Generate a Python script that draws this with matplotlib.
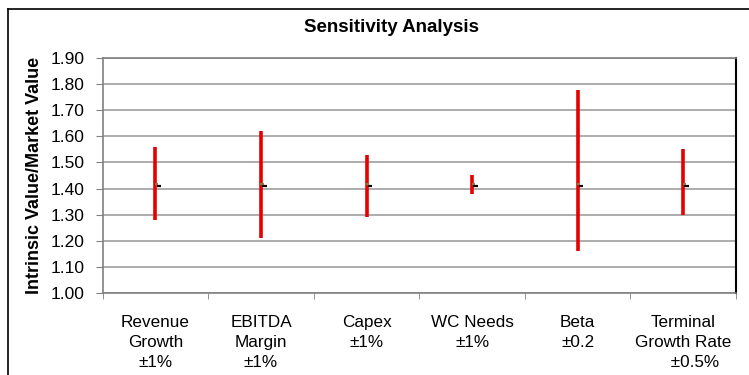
import numpy as np
import matplotlib.pyplot as plt
from matplotlib.lines import Line2D

plt.rcParams['font.family'] = ['Liberation Sans', 'DejaVu Sans']

# Rango de la relación valor intrínseco / valor de mercado por variable
categories = ['Revenue\nGrowth\n±1%', 'EBITDA\nMargin\n±1%', 'Capex\n±1%',
              'WC Needs\n±1%', 'Beta\n±0.2', 'Terminal\nGrowth Rate\n     ±0.5%']
high_vals = [1.56, 1.62, 1.53, 1.45, 1.78, 1.55]
low_vals = [1.28, 1.21, 1.29, 1.38, 1.16, 1.30]
base_vals = [1.41, 1.41, 1.41, 1.41, 1.41, 1.41]
y_ticks = [1.00, 1.10, 1.20, 1.30, 1.40, 1.50, 1.60, 1.70, 1.80, 1.90]

fig = plt.figure(figsize=(7.49, 3.75), dpi=100)

# marco del gráfico
fig.add_artist(Line2D([8 / 749, 8 / 749], [0, 1 - 9 / 375],
                      transform=fig.transFigure, color='black', lw=1.2))
fig.add_artist(Line2D([8 / 749, 1], [1 - 9 / 375, 1 - 9 / 375],
                      transform=fig.transFigure, color='black', lw=1.2))

ax = fig.add_axes([102.7 / 749, 1 - 292.7 / 375,
                   (736 - 102.7) / 749, (292.7 - 58.3) / 375])

x = np.arange(len(categories))
ax.vlines(x, low_vals, high_vals, color='#e60000', lw=2.6, zorder=3)
# valor base (cierre) como pequeña marca a la derecha
for xi, b in zip(x, base_vals):
    ax.plot([xi + 0.01, xi + 0.055], [b - 0.001, b - 0.001], color='black',
            lw=1.6, solid_capstyle='butt', zorder=4)
    ax.plot([xi - 0.005, xi + 0.025], [b + 0.007, b + 0.007], color='#8a7a3a',
            lw=1.6, solid_capstyle='butt', zorder=4)

ax.set_xlim(-0.5, len(categories) - 0.5)
ax.set_ylim(1.0, 1.9)
ax.set_yticks(y_ticks)
ax.set_yticklabels([f'{v:.2f}' for v in y_ticks], fontsize=12.5)
ax.yaxis.grid(True, color='#a6a6a6', lw=1.3)
ax.set_axisbelow(True)

ax.set_xticks(x)
ax.set_xticklabels(categories, fontsize=12.3, linespacing=1.4)
ax.tick_params(axis='x', length=0, pad=16)
ax.set_xticks(np.arange(len(categories) + 1) - 0.5, minor=True)
ax.tick_params(axis='x', which='minor', length=4, color='#808080', direction='out')
ax.tick_params(axis='y', length=5, color='#808080', pad=8)

for side in ['left', 'bottom', 'top']:
    ax.spines[side].set_color('#808080')
    ax.spines[side].set_linewidth(1.2)
ax.spines['right'].set_color('black')
ax.spines['right'].set_linewidth(1.5)

ax.set_ylabel('Intrinsic Value/Market Value', fontsize=13, fontweight='bold')
ax.yaxis.set_label_coords(-0.094, 0.5)

fig.text(392 / 749, 1 - 28 / 375, 'Sensitivity Analysis', ha='center',
         va='center', fontsize=13.5, fontweight='bold')

fig.savefig('out.png', dpi=100)
